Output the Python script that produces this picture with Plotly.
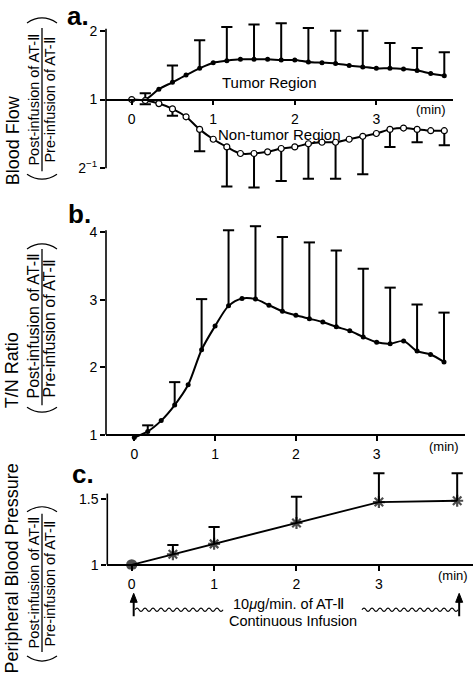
import numpy as np
import plotly.graph_objects as go

# ---------------- data ----------------
t_sec = [0, 10, 20, 30, 40, 50, 60, 70, 80, 90, 100, 110,
         120, 130, 140, 150, 160, 170, 180, 190, 200, 210, 220, 230]

tumor_flow = [1.00, 1.00, 1.11, 1.19, 1.28, 1.37, 1.45, 1.48, 1.50, 1.50, 1.50, 1.49,
              1.49, 1.46, 1.45, 1.44, 1.41, 1.39, 1.37, 1.37, 1.36, 1.34, 1.30, 1.27]
tumor_upper = [None, 1.065, None, 1.41, None, 1.82, None, 2.08, None, 2.13, None, 2.16,
               None, 2.06, None, 2.00, None, 2.00, None, 1.77, None, 1.68, None, 1.61]

nontumor_flow = [1.00, 0.99, 0.96, 0.91, 0.84, 0.74, 0.67, 0.62, 0.58, 0.58, 0.59, 0.61,
                 0.62, 0.64, 0.65, 0.65, 0.67, 0.69, 0.71, 0.74, 0.75, 0.74, 0.73, 0.73]
nontumor_lower = [None, 0.953, None, 0.85, None, 0.593, None, 0.416, None, 0.412, None, 0.44,
                  None, 0.45, None, 0.45, None, 0.47, None, 0.62, None, 0.65, None, 0.63]

tn_ratio = [0.96, 1.05, 1.21, 1.44, 1.74, 2.26, 2.61, 2.91, 3.02, 3.01, 2.92, 2.83,
            2.77, 2.72, 2.67, 2.60, 2.54, 2.45, 2.37, 2.35, 2.39, 2.24, 2.19, 2.08]
tn_upper = [None, 1.14, None, 1.78, None, 3.01, None, 4.03, None, 4.09, None, 3.93,
            None, 3.85, None, 3.73, None, 3.46, None, 3.18, None, 2.93, None, 2.81]

bp_time = [0, 0.5, 1, 2, 3, 3.95]
bp_ratio = [1.00, 1.08, 1.16, 1.32, 1.48, 1.49]
bp_upper = [None, 1.152, 1.29, 1.52, 1.70, 1.70]

x_ticks = [0, 1, 2, 3]
flow_ticks = [0.5, 1, 2]
flow_ticktext = ['2<sup>−1</sup>', '1', '2']
tn_ticks = [1, 2, 3, 4]
bp_ticks = [1, 1.5]

# ---------------- helpers ----------------
W, H = 474, 675
FONT = 'Liberation Sans, Arial, sans-serif'


def px(x):
    return x / W


def py(y):
    return 1 - y / H


t_min = [s / 60 for s in t_sec]
log2 = lambda v: None if v is None else float(np.log2(v))

fig = go.Figure()


def add_bars(xs, means, ends, xa, ya):
    bx, by, cx, cy = [], [], [], []
    for x, m, e in zip(xs, means, ends):
        if e is None:
            continue
        bx += [x, x, None]
        by += [m, e, None]
        cx.append(x)
        cy.append(e)
    fig.add_trace(go.Scatter(x=bx, y=by, mode='lines', xaxis=xa, yaxis=ya,
                             line=dict(color='black', width=2), hoverinfo='skip',
                             showlegend=False))
    fig.add_trace(go.Scatter(x=cx, y=cy, mode='markers', xaxis=xa, yaxis=ya,
                             marker=dict(symbol='line-ew', size=8,
                                         line=dict(color='black', width=2)),
                             hoverinfo='skip', showlegend=False))


# ---- panel a ----
tumor_l = [log2(v) for v in tumor_flow]
non_l = [log2(v) for v in nontumor_flow]
add_bars(t_min, tumor_l, [log2(v) for v in tumor_upper], 'x', 'y')
add_bars(t_min, non_l, [log2(v) for v in nontumor_lower], 'x', 'y')
fig.add_trace(go.Scatter(x=t_min, y=tumor_l, mode='lines+markers', xaxis='x', yaxis='y',
                         line=dict(color='black', width=2, shape='spline', smoothing=0.8),
                         marker=dict(symbol='circle', size=5, color='black'),
                         showlegend=False, name='Tumor Region'))
fig.add_trace(go.Scatter(x=t_min, y=non_l, mode='lines+markers', xaxis='x', yaxis='y',
                         line=dict(color='black', width=2, shape='spline', smoothing=0.8),
                         marker=dict(symbol='circle', size=6, color='white',
                                     line=dict(color='black', width=1.2)),
                         showlegend=False, name='Non-tumor Region'))

# ---- panel b ----
add_bars(t_min, tn_ratio, tn_upper, 'x2', 'y2')
fig.add_trace(go.Scatter(x=t_min, y=tn_ratio, mode='lines+markers', xaxis='x2', yaxis='y2',
                         line=dict(color='black', width=2, shape='spline', smoothing=0.8),
                         marker=dict(symbol='circle', size=5, color='black'),
                         showlegend=False, name='T/N Ratio'))

# ---- panel c ----
add_bars(bp_time, bp_ratio, bp_upper, 'x3', 'y3')
fig.add_trace(go.Scatter(x=bp_time, y=bp_ratio, mode='lines+markers', xaxis='x3', yaxis='y3',
                         line=dict(color='black', width=1.8),
                         marker=dict(symbol=['circle'] + ['asterisk-open'] * (len(bp_time) - 1),
                                     size=[9] + [10] * (len(bp_time) - 1), color='black',
                                     line=dict(color='black', width=2.2)),
                         showlegend=False, name='Peripheral Blood Pressure'))

# ---------------- axes ----------------
panels = {
    'a': dict(xdom=(106, 453), xr=(-0.315, 3.94), ydom=(195, 20), yr=(-1.377, 1.159),
              zero=0.0, ytop=float(np.log2(flow_ticks[-1])), ybot=float(np.log2(flow_ticks[0]))),
    'b': dict(xdom=(106, 465), xr=(-0.35, 4.093), ydom=(445, 222), yr=(0.878, 4.167),
              zero=1.0, ytop=tn_ticks[-1], ybot=tn_ticks[0]),
    'c': dict(xdom=(107.3, 473), xr=(-0.296, 4.142), ydom=(572, 474), yr=(0.964, 1.711),
              zero=1.0, ytop=1.53, ybot=bp_ticks[0]),
}


def ypaper(p, v):
    d0, d1 = py(p['ydom'][0]), py(p['ydom'][1])
    r0, r1 = p['yr']
    return d0 + (v - r0) / (r1 - r0) * (d1 - d0)


def xpaper(p, v):
    d0, d1 = px(p['xdom'][0]), px(p['xdom'][1])
    r0, r1 = p['xr']
    return d0 + (v - r0) / (r1 - r0) * (d1 - d0)


axis_common = dict(showgrid=False, zeroline=False, ticks='outside', ticklen=5, tickwidth=1.5,
                   tickcolor='black', tickfont=dict(family=FONT, size=14, color='black'),
                   fixedrange=True)

layout = dict(width=W, height=H, margin=dict(l=0, r=0, t=0, b=0),
              paper_bgcolor='white', plot_bgcolor='rgba(0,0,0,0)',
              font=dict(family=FONT, color='black'), showlegend=False)

shapes = []
for i, key in enumerate(['a', 'b', 'c']):
    p = panels[key]
    sfx = '' if i == 0 else str(i + 1)
    layout['xaxis' + sfx] = dict(axis_common, domain=[px(p['xdom'][0]), px(p['xdom'][1])],
                                 range=list(p['xr']), anchor='free',
                                 position=ypaper(p, p['zero']), tickvals=x_ticks,
                                 showline=True, linewidth=1.6, linecolor='black',
                                 ticklabelstandoff=2)
    ydict = dict(axis_common, domain=[py(p['ydom'][0]), py(p['ydom'][1])],
                 range=list(p['yr']), anchor='x' + sfx, showline=False)
    if key == 'a':
        ydict.update(tickvals=[float(np.log2(v)) for v in flow_ticks], ticktext=flow_ticktext)
    elif key == 'b':
        ydict.update(tickvals=tn_ticks)
    else:
        ydict.update(tickvals=bp_ticks, ticktext=['1', '1.5'])
    layout['yaxis' + sfx] = ydict
    xl = px(p['xdom'][0])
    shapes.append(dict(type='line', xref='paper', yref='paper', x0=xl, x1=xl,
                       y0=ypaper(p, p['ybot']), y1=ypaper(p, p['ytop']) + 2 / H,
                       line=dict(color='black', width=1.6)))

# ---- y-title fraction decorations ----
frac = [  # (bar top, bar bottom, paren top, paren bottom)
    (28, 172, 18, 180),
    (250, 407, 245, 414),
    (516, 655, 509, 664),
]
for top, bot, ptop, pbot in frac:
    shapes.append(dict(type='line', xref='paper', yref='paper', x0=px(42), x1=px(42),
                       y0=py(top), y1=py(bot), line=dict(color='black', width=1.3)))
    shapes.append(dict(type='path', xref='paper', yref='paper',
                       path=f'M {px(27)},{py(ptop + 5)} Q {px(42)},{py(ptop - 5)} {px(57)},{py(ptop + 5)}',
                       line=dict(color='black', width=1.2)))
    shapes.append(dict(type='path', xref='paper', yref='paper',
                       path=f'M {px(27)},{py(pbot - 5)} Q {px(42)},{py(pbot + 5)} {px(57)},{py(pbot - 5)}',
                       line=dict(color='black', width=1.2)))


# ---- wavy line for infusion ----
def wave(x0, x1, y, half=4.0, amp=1.6):
    s = f'M {px(x0)},{py(y)}'
    x = x0
    sign = 1
    while x + half <= x1 + 0.01:
        s += f' Q {px(x + half / 2)},{py(y - 2 * amp * sign)} {px(x + half)},{py(y)}'
        x += half
        sign = -sign
    return s


wave_y = 612.5
shapes.append(dict(type='path', xref='paper', yref='paper', path=wave(135, 223, wave_y),
                   line=dict(color='black', width=1.2)))
shapes.append(dict(type='path', xref='paper', yref='paper', path=wave(362, 458, wave_y),
                   line=dict(color='black', width=1.2)))

# ---- infusion start / end arrows ----
pc = panels['c']
for xv in (bp_time[0], bp_time[-1]):
    xp = xpaper(pc, xv) + 2 / W
    shapes.append(dict(type='line', xref='paper', yref='paper', x0=xp, x1=xp,
                       y0=py(619), y1=py(603), line=dict(color='black', width=2)))
    shapes.append(dict(type='path', xref='paper', yref='paper',
                       path=f'M {xp},{py(596)} L {xp - 3.5 / W},{py(605)} L {xp + 3.5 / W},{py(605)} Z',
                       fillcolor='black', line=dict(color='black', width=1)))
layout['shapes'] = shapes

# ---------------- annotations ----------------
ann = []


def text(x, y, s, size, angle=0, bold=False, xanchor='center'):
    ann.append(dict(x=px(x), y=py(y), xref='paper', yref='paper', text=s, showarrow=False,
                    textangle=angle, xanchor=xanchor, yanchor='middle',
                    font=dict(family=FONT, size=size, color='black',
                              weight='bold' if bold else 'normal')))


text(65, 16, 'a.', 26, bold=True, xanchor='left')
text(66, 215, 'b.', 26, bold=True, xanchor='left')
text(70, 476, 'c.', 26, bold=True, xanchor='left')

text(13, 141, 'Blood Flow', 18, angle=-90)
text(34, 100, 'Post-infusion of AT-Ⅱ', 14.5, angle=-90)
text(50, 101, 'Pre-infusion of AT-Ⅱ', 14.5, angle=-90)

text(12, 372, 'T/N Ratio', 18, angle=-90)
text(34, 327, 'Post-infusion of AT-Ⅱ', 16, angle=-90)
text(50, 330, 'Pre-infusion of AT-Ⅱ', 16, angle=-90)

text(12, 571, 'Peripheral Blood Pressure', 18, angle=-90)
text(34, 585, 'Post-infusion of AT-Ⅱ', 14.5, angle=-90)
text(50, 587, 'Pre-infusion of AT-Ⅱ', 14.5, angle=-90)

text(269, 83, 'Tumor Region', 15)
text(279, 135, 'Non-tumor Region', 15)
text(431, 110, '(min)', 13)
text(444, 448, '(min)', 13)
text(453, 578, '(min)', 13)

text(288, 607, '10<i>μ</i>g/min. of AT-Ⅱ', 14.5)
text(293, 624, 'Continuous Infusion', 14.5)

layout['annotations'] = ann
fig.update_layout(**layout)
fig.write_html('out.html', config={'displayModeBar': False},
               post_script="document.body.style.margin='0';document.body.style.overflow='hidden';")
